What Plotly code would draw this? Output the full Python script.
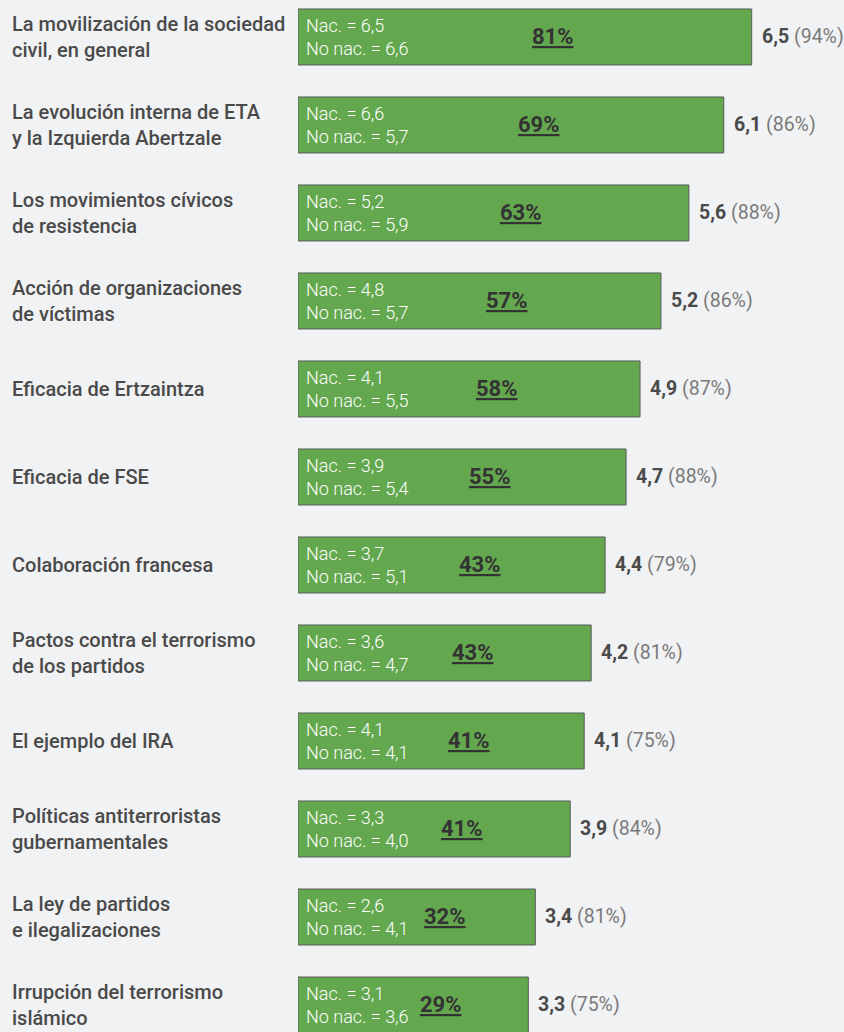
import plotly.graph_objects as go

# rows top to bottom
labels = [
    "La movilización de la sociedad<br>civil, en general",
    "La evolución interna de ETA<br>y la Izquierda Abertzale",
    "Los movimientos cívicos<br>de resistencia",
    "Acción de organizaciones<br>de víctimas",
    "Eficacia de Ertzaintza",
    "Eficacia de FSE",
    "Colaboración francesa",
    "Pactos contra el terrorismo<br>de los partidos",
    "El ejemplo del IRA",
    "Políticas antiterroristas<br>gubernamentales",
    "La ley de partidos<br>e ilegalizaciones",
    "Irrupción del terrorismo<br>islámico",
]
media = [6.5, 6.1, 5.6, 5.2, 4.9, 4.7, 4.4, 4.2, 4.1, 3.9, 3.4, 3.3]
respuesta_pct = [94, 86, 88, 86, 87, 88, 79, 81, 75, 84, 81, 75]
nac = [6.5, 6.6, 5.2, 4.8, 4.1, 3.9, 3.7, 3.6, 4.1, 3.3, 2.6, 3.1]
no_nac = [6.6, 5.7, 5.9, 5.7, 5.5, 5.4, 5.1, 4.7, 4.1, 4.0, 4.1, 3.6]
aprobado_pct = [81, 69, 63, 57, 58, 55, 43, 43, 41, 41, 32, 29]

FONT = "Roboto"
BG = "#f1f2f4"


def fmt(v):
    return f"{v:.1f}".replace(".", ",")


ids = list(range(len(labels)))

fig = go.Figure(
    go.Bar(
        x=media,
        y=ids,
        orientation="h",
        width=0.636,
        marker=dict(color="#63a84e", line=dict(color="#5a5a5a", width=1)),
        hoverinfo="skip",
    )
)

for i, lab in enumerate(labels):
    fig.add_annotation(
        xref="paper", x=(10 - 298) / 546, y=i, text=lab, showarrow=False,
        xanchor="left", align="left",
        font=dict(family=FONT, size=20, color="#4a4a4a", weight=500),
    )
    fig.add_annotation(
        x=0, y=i, xshift=6, text=f"Nac. = {fmt(nac[i])}<br>No nac. = {fmt(no_nac[i])}",
        showarrow=False, xanchor="left", align="left",
        font=dict(family=FONT, size=18, color="white", weight=300),
    )
    fig.add_annotation(
        x=media[i] / 2, y=i, xshift=28, text=f"<b><u>{aprobado_pct[i]}%</u></b>",
        showarrow=False, xanchor="center",
        font=dict(family=FONT, size=22, color="#333333"),
    )
    fig.add_annotation(
        x=media[i], y=i, xshift=8, xanchor="left", showarrow=False,
        text=f"<b>{fmt(media[i])}</b> <span style='color:#7a7a7a'>({respuesta_pct[i]}%)</span>",
        font=dict(family=FONT, size=19.5, color="#4a4a4a"),
    )

fig.update_layout(
    width=844,
    height=1032,
    margin=dict(l=298, r=0, t=0, b=0),
    paper_bgcolor=BG,
    plot_bgcolor=BG,
    showlegend=False,
)
fig.update_xaxes(range=[0, 546 / 69.8], visible=False)
fig.update_yaxes(range=[11.307, -0.42], visible=False)

fig.write_html(
    "out.html",
    config={"displayModeBar": False},
    post_script="document.body.style.margin='0';document.body.style.background='%s';" % BG,
)
